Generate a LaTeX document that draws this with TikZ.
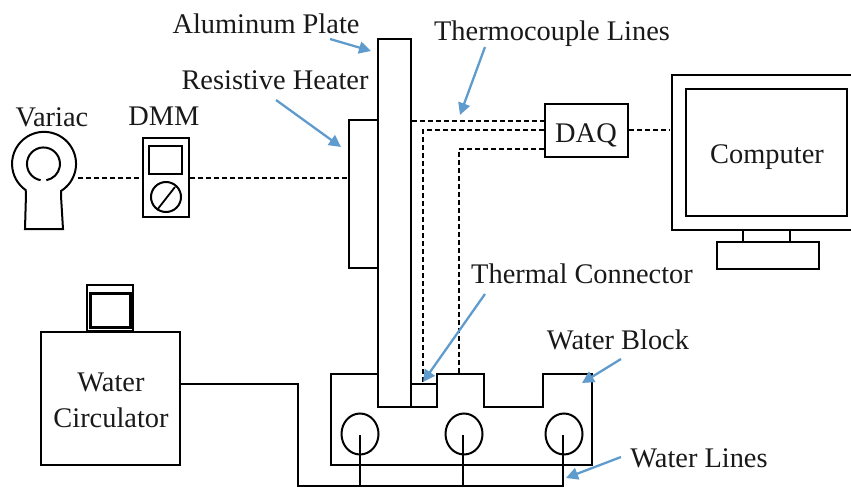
\documentclass[tikz,border=0pt]{standalone}
\usepackage{fontspec}
\setmainfont{Liberation Serif}
\usetikzlibrary{arrows.meta,shapes.geometric}
\definecolor{arrowblue}{RGB}{95,155,205}
\tikzset{
  x=1pt,y=-1pt,
  line/.style={draw=black,line width=2pt,line join=miter},
  heavy line/.style={draw=black,line width=2.6pt,line join=miter},
  thin line/.style={draw=black,line width=1.8pt},
  dash line/.style={draw=black,line width=1.8pt,dash pattern=on 5pt off 3pt},
  pointer/.style={draw=arrowblue,line width=2.3pt,-{Triangle[length=12pt,width=12pt]}},
  lbl/.style={font=\fontsize{28.4}{36}\selectfont,inner sep=0pt,align=center,text=black!90},
  box/.style={line,minimum width=0pt,inner sep=0pt},
  heavy box/.style={heavy line,minimum width=0pt,inner sep=0pt}
}
\begin{document}
\begin{tikzpicture}
\useasboundingbox (0,0) rectangle (851,489);
% variac
\coordinate (vL) at (26,194);
\draw[line] (vL) -- (25,229) -- (63,229) -- (61,196) -- (61,191) arc[start angle=-58,end angle=235,radius=32pt] -- cycle;
\draw[line] (40.6,180.2) arc[start angle=260,end angle=-80,radius=16.5pt];
% dmm
\node[heavy box,draw,minimum width=46pt,minimum height=79pt] (dmm) at (166,177.5) {};
\node[heavy box,draw,minimum width=33pt,minimum height=28pt] (dmmS) at (165.5,160) {};
\node[circle,box,draw,minimum size=30pt] (dmmD) at (166,197) {};
\draw[thin line] (157,210) -- (175,187);
% heater and plate
\node[box,draw,minimum width=29pt,minimum height=148pt] (heat) at (363.5,194) {};
\node[box,draw,fill=white,minimum width=33pt,minimum height=368pt] (plate) at (394.5,223) {};
% DAQ
\node[box,draw,minimum width=83pt,minimum height=53pt] (daq) at (586.5,130.5) {};
% computer
\draw[heavy line] (853,75) -- (672,75) -- (672,230) -- (853,230);
\node[heavy box,draw,minimum width=161pt,minimum height=127pt] (scr) at (766.5,152.5) {};
\node[box,draw,minimum width=102pt,minimum height=27pt] (base) at (768,255.5) {};
\coordinate (monB1) at (743,230);
\coordinate (monB2) at (790,230);
\draw[line] (monB1) -- (monB1 |- base.north);
\draw[line] (monB2) -- (monB2 |- base.north);
% water block
\draw[line] (378,374) -- (331,374) -- (331,465) -- (592,465) -- (592,374) -- (543,374) -- (543,407) -- (484,407) -- (484,374) -- (437,374) -- (437,407) -- (378,407);
\draw[line] (411,384) -- (437,384);
% circulator
\node[box,draw,minimum width=139pt,minimum height=133pt] (circ) at (110.5,398.5) {};
\node[box,draw,minimum width=46pt,minimum height=46pt,anchor=south] (cap) at (110,332) {};
\node[draw=black,line width=3pt,inner sep=0pt,minimum width=40pt,minimum height=34pt] (capS) at (110.5,310) {};
% tubes
\node[ellipse,box,draw,minimum width=37pt,minimum height=41pt] (t1) at (360,434) {};
\node[ellipse,box,draw,minimum width=37pt,minimum height=41pt] (t2) at (464,434) {};
\node[ellipse,box,draw,minimum width=37pt,minimum height=41pt] (t3) at (564,434) {};
\draw[line] (circ.east |- 0,384) -- (298,384) -- (298,486) -- (563,486) -- (563,435);
\draw[line] (360,486) -- (360,435);
\draw[line] (463,486) -- (463,435);
% dashed
\draw[dash line] (78,178) -- (dmm.west |- 0,178);
\draw[dash line] (dmm.east |- 0,178) -- (heat.west |- 0,178);
\draw[dash line] (plate.east |- 0,121) -- (daq.west |- 0,121);
\draw[dash line] (daq.west |- 0,130) -- (423,130) -- (423,384);
\draw[dash line] (daq.west |- 0,149) -- (459,149) -- (459,374);
\draw[dash line] (daq.east |- 0,130) -- (670,130);
% labels
\node[lbl] (tAl) at (266,24) {Aluminum Plate};
\node[lbl] (tTc) at (552,34) {Thermocouple Lines};
\node[lbl] (tRh) at (275,80) {Resistive Heater};
\node[lbl] (tVa) at (52,117) {Variac};
\node[lbl] (tDm) at (164,116) {DMM};
\node[lbl] (tCo) at (767,157) {Computer};
\node[lbl] (tDa) at (586,135) {DAQ};
\node[lbl] (tTh) at (582,274) {Thermal Connector};
\node[lbl] (tWb) at (618,340) {Water Block};
\node[lbl] (tWc) at (111,400) {Water\\Circulator};
\node[lbl] (tWl) at (699,458) {Water Lines};
% pointers
\draw[pointer] (330,39) -- (371,51);
\draw[pointer] (276,100) -- (341,147);
\draw[pointer] (485,47) -- (460,115);
\draw[pointer] (485,294) -- (423,382);
\draw[pointer] (621,359) -- (582,383);
\draw[pointer] (621,457) -- (566,478);
\end{tikzpicture}
\end{document}
